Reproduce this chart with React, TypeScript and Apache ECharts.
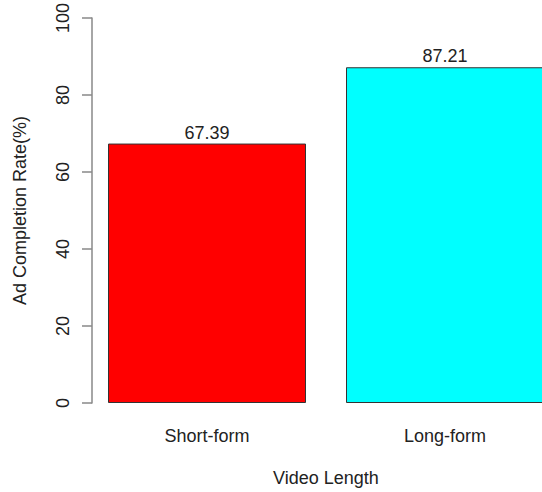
import React, { useEffect, useRef } from "react";
import * as echarts from "echarts";

const categories = ["Short-form", "Long-form"];
const values = [67.39, 87.21];
const barColors = ["#FF0000", "#00FFFF"];
const yTicks = { min: 0, max: 100, interval: 20 };

export default function App() {
  const ref = useRef<HTMLDivElement>(null);
  useEffect(() => {
    if (!ref.current) return;
    const chart = echarts.init(ref.current, undefined, { renderer: "svg" });
    const font = "Liberation Sans, Arial, Helvetica, sans-serif";
    const fs = 18;
    chart.setOption({
      animation: false,
      grid: { left: 88, right: 0, top: 17, bottom: 80, containLabel: false },
      xAxis: {
        type: "category",
        data: categories,
        axisLine: { show: false },
        axisTick: { show: false },
        axisLabel: { color: "#222", fontSize: fs, fontFamily: font, margin: 24 },
        name: "Video Length",
        nameLocation: "middle",
        nameGap: 66,
        nameTextStyle: { color: "#222", fontSize: fs, fontFamily: font },
      },
      yAxis: {
        type: "value",
        min: yTicks.min,
        max: yTicks.max,
        interval: yTicks.interval,
        offset: -4,
        splitLine: { show: false },
        axisLine: { show: true, lineStyle: { color: "#888", width: 1.5 } },
        axisTick: { show: true, length: 10, lineStyle: { color: "#888", width: 1.5 } },
        axisLabel: {
          color: "#222",
          fontSize: fs,
          fontFamily: font,
          rotate: 90,
          margin: 20,
        },
        name: "Ad Completion Rate(%)",
        nameLocation: "middle",
        nameGap: 63,
        nameTextStyle: { color: "#222", fontSize: fs, fontFamily: font },
      },
      series: [
        {
          type: "bar",
          barWidth: 198,
          data: values.map((v, i) => ({
            value: v,
            itemStyle: { color: barColors[i], borderColor: "#333", borderWidth: 1 },
          })),
          label: {
            show: true,
            position: "top",
            distance: 2,
            color: "#222",
            fontSize: fs,
            fontFamily: font,
            formatter: (p: any) => p.value.toFixed(2),
          },
        },
      ],
    });
    return () => chart.dispose();
  }, []);
  return (
    <div style={{ position: "fixed", left: 0, top: 0, width: 542, height: 492, overflow: "hidden", background: "#fff" }}>
      <div ref={ref} style={{ width: 564, height: 492 }} />
    </div>
  );
}
